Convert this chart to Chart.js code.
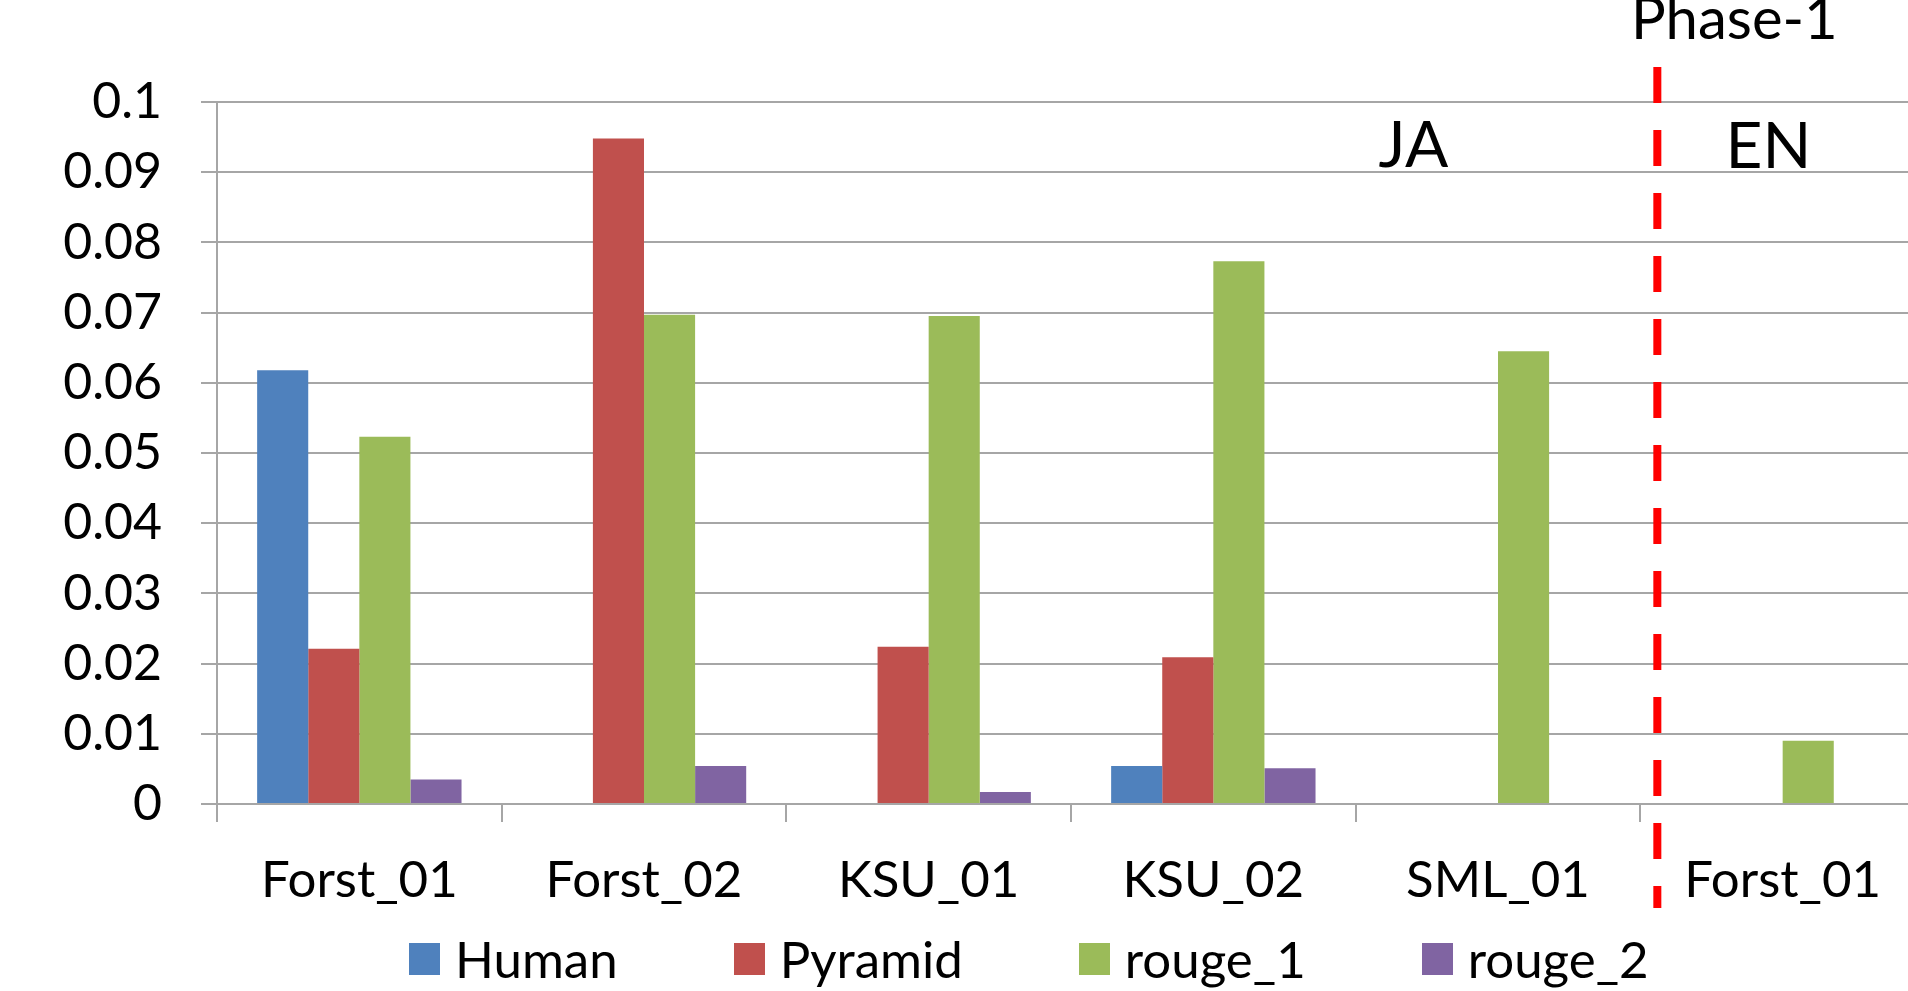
<!DOCTYPE html>
<html>
<head>
<meta charset="utf-8">
<script src="https://cdn.jsdelivr.net/npm/chart.js@4.4.1/dist/chart.umd.min.js"></script>
<style>
  html, body { margin: 0; padding: 0; background: #fff; overflow: hidden; }
  #wrap { position: relative; width: 1926px; height: 991px; }
  #legend {
    position: absolute; left: 409px; top: 935px;
    display: flex; align-items: center; gap: 116px;
    font-family: Lato, sans-serif; font-size: 51px; line-height: 48px; color: #000;
  }
  .legend-item { display: flex; align-items: center; }
  .legend-swatch { display: inline-block; width: 31px; height: 32px; margin-right: 15px; }
</style>
</head>
<body>
<div id="wrap">
  <canvas id="chart"></canvas>
  <div id="legend"></div>
</div>
<script>
'use strict';

const categories = ['Forst_01', 'Forst_02', 'KSU_01', 'KSU_02', 'SML_01', 'Forst_01'];
const seriesNames = ['Human', 'Pyramid', 'rouge_1', 'rouge_2'];
const human = [0.0618, null, null, 0.0054, null, null];
const pyramid = [0.0221, 0.0948, 0.0224, 0.0209, null, null];
const rouge1 = [0.0523, 0.0697, 0.0695, 0.0773, 0.0645, 0.0090];
const rouge2 = [0.0035, 0.0054, 0.0017, 0.0051, null, null];
const yTickLabels = ['0', '0.01', '0.02', '0.03', '0.04', '0.05', '0.06', '0.07', '0.08', '0.09', '0.1'];
const regionLabels = ['JA', 'EN'];
const dividerLabel = 'Phase-1';

const COLORS = ['#4f81bd', '#c0504d', '#9bbb59', '#8064a2'];
const GRID = '#a6a6a6';
const FONT = 'Lato';

// Red dashed divider between the JA and EN runs, plus the region captions.
const phaseDivider = {
  id: 'phaseDivider',
  afterDraw(chart) {
    const { ctx, chartArea, scales: { x } } = chart;
    const xb = (x.getPixelForValue(4) + x.getPixelForValue(5)) / 2 + 17;
    ctx.save();
    ctx.strokeStyle = '#ff0000';
    ctx.lineWidth = 8;
    ctx.setLineDash([36, 27]);
    ctx.beginPath();
    ctx.moveTo(xb, chartArea.top - 35);
    ctx.lineTo(xb, chartArea.bottom + 104);
    ctx.stroke();
    ctx.setLineDash([]);
    ctx.fillStyle = '#000';
    ctx.textAlign = 'center';
    ctx.textBaseline = 'alphabetic';
    ctx.font = `64px ${FONT}`;
    ctx.fillText(regionLabels[0], xb - 244, chartArea.top + 65);
    ctx.fillText(regionLabels[1], xb + 111, chartArea.top + 66);
    ctx.font = `58px ${FONT}`;
    ctx.fillText(dividerLabel, xb + 77, chartArea.top - 63);
    ctx.restore();
  },
};

const values = [human, pyramid, rouge1, rouge2];
const datasets = seriesNames.map((name, i) => ({
  label: name,
  data: values[i],
  backgroundColor: COLORS[i],
  borderWidth: 0,
  barPercentage: 1,
  categoryPercentage: 0.718,
}));

new Chart(document.getElementById('chart'), {
  type: 'bar',
  data: { labels: categories, datasets },
  options: {
    responsive: true,
    maintainAspectRatio: false,
    animation: false,
    layout: { padding: { top: 102, right: 1, bottom: 0, left: 0 } },
    scales: {
      x: {
        afterFit: (s) => { s.height = 187; },
        grid: { drawOnChartArea: false, drawTicks: true, tickLength: 18, color: GRID, lineWidth: 2 },
        border: { color: GRID, width: 2 },
        ticks: { color: '#000', padding: 28, font: { family: FONT, size: 51 }, maxRotation: 0 },
      },
      y: {
        min: 0,
        max: 0.1,
        afterFit: (s) => { s.width = 217; },
        grid: { color: GRID, lineWidth: 2, tickLength: 16 },
        border: { color: GRID, width: 2 },
        ticks: {
          stepSize: 0.01,
          color: '#000',
          padding: 39,
          font: { family: FONT, size: 50 },
          callback: (v, i) => yTickLabels[i],
        },
      },
    },
    plugins: {
      legend: { display: false },
      tooltip: { enabled: false },
    },
  },
  plugins: [phaseDivider],
});

document.getElementById('legend').innerHTML = seriesNames
  .map((n, i) => `<span class="legend-item"><span class="legend-swatch" style="background:${COLORS[i]}"></span>${n}</span>`)
  .join('');
</script>
</body>
</html>
